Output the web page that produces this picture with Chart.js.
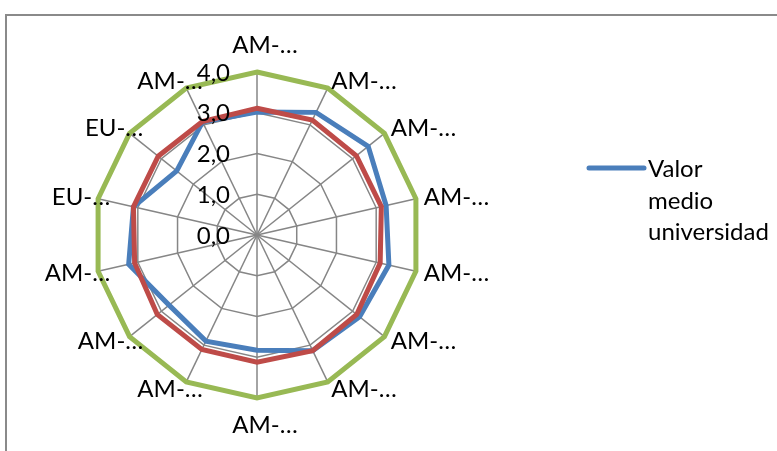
<!DOCTYPE html>
<html>
<head>
<meta charset="utf-8">
<script src="https://cdn.jsdelivr.net/npm/chart.js@4"></script>
<style>
  html, body { margin: 0; padding: 0; background: #fff; overflow: hidden; }
  #marco { position: absolute; left: 5px; top: 14px; width: 900px; height: 600px; border: 2px solid #8a8a8a; }
  #wrap { position: absolute; left: 0; top: 0; width: 777px; height: 451px; }
</style>
</head>
<body>
<div id="marco"></div>
<div id="wrap"><canvas id="graficoRadar"></canvas></div>
<script>
// datos
const categorias = ['AM-…', 'AM-…', 'AM-…', 'AM-…', 'AM-…', 'AM-…', 'AM-…',
                    'AM-…', 'AM-…', 'AM-…', 'AM-…', 'EU-…', 'EU-…', 'AM-…'];
const valorUniversidad = [3.02, 3.34, 3.49, 3.25, 3.32, 3.22, 3.15, 2.83, 2.89, 2.76, 3.23, 3.11, 2.52, 3.08];
const valorReferencia  = [3.11, 3.13, 3.12, 3.13, 3.10, 3.13, 3.15, 3.12, 3.12, 3.13, 3.08, 3.11, 3.10, 3.09];
const valorMaximo      = [4, 4, 4, 4, 4, 4, 4, 4, 4, 4, 4, 4, 4, 4];
const ticksEje = [0, 1, 2, 3, 4];
const leyendaTexto = ['Valor', 'medio', 'universidad'];

const fuente = '24px Lato';

// etiquetas del eje y de las categorias, dibujadas como en Excel
const etiquetasExcel = {
    id: 'etiquetasExcel',
    afterDraw(chart) {
        const ctx = chart.ctx;
        const r = chart.scales.r;
        ctx.save();
        ctx.font = fuente;
        ctx.fillStyle = '#000';

        // valores del eje a la izquierda del eje vertical
        ctx.textAlign = 'right';
        ctx.textBaseline = 'middle';
        ticksEje.forEach(v => {
            const y = r.yCenter - r.getDistanceFromCenterForValue(v);
            ctx.fillText(v.toFixed(1).replace('.', ','), r.xCenter - 27, y + 1);
        });

        // categorias
        const n = categorias.length;
        categorias.forEach((txt, i) => {
            const p = r.getPointPosition(i, r.drawingArea + 8);
            let x = p.x, y = p.y;
            if (i === 0) {
                ctx.textAlign = 'center';
                x = r.xCenter + 8;
                y = r.yCenter - r.drawingArea - 27;
            } else if (i === n / 2) {
                ctx.textAlign = 'center';
                x = r.xCenter + 8;
                y = r.yCenter + r.drawingArea + 27;
            } else if (i < n / 2) {
                ctx.textAlign = 'left';
            } else {
                ctx.textAlign = 'right';
                x = x + 20;
            }
            ctx.fillText(txt, x, y);
        });

        // leyenda (solo la primera serie)
        const ds = chart.data.datasets[0];
        ctx.strokeStyle = ds.borderColor;
        ctx.lineWidth = 5;
        ctx.lineCap = 'round';
        ctx.beginPath();
        ctx.moveTo(589, 168);
        ctx.lineTo(644, 168);
        ctx.stroke();
        ctx.textAlign = 'left';
        ctx.textBaseline = 'alphabetic';
        leyendaTexto.forEach((t, k) => {
            ctx.fillText(t, 648, 177 + k * 31.5);
        });
        ctx.restore();
    }
};

const ctx = document.getElementById('graficoRadar').getContext('2d');
new Chart(ctx, {
    type: 'radar',
    data: {
        labels: categorias,
        datasets: [{
            label: 'Valor medio universidad',
            data: valorUniversidad,
            borderColor: '#4a7ebb',
            borderWidth: 5,
            fill: false,
            pointRadius: 0,
            order: 3
        }, {
            label: 'Serie2',
            data: valorReferencia,
            borderColor: '#be4b48',
            borderWidth: 5,
            fill: false,
            pointRadius: 0,
            order: 2
        }, {
            label: 'Serie3',
            data: valorMaximo,
            borderColor: '#98b954',
            borderWidth: 5,
            fill: false,
            pointRadius: 0,
            order: 1
        }]
    },
    options: {
        responsive: true,
        maintainAspectRatio: false,
        animation: false,
        layout: {
            padding: { left: 94, top: 72, right: 357, bottom: 53 }
        },
        plugins: {
            legend: { display: false },
            tooltip: { enabled: false }
        },
        elements: {
            line: { tension: 0, borderJoinStyle: 'miter' }
        },
        scales: {
            r: {
                min: 0,
                max: 4,
                ticks: { display: false, stepSize: 1 },
                pointLabels: { display: false },
                grid: { color: '#868686', lineWidth: 1.5 },
                angleLines: { color: '#868686', lineWidth: 1.5 }
            }
        }
    },
    plugins: [etiquetasExcel]
});
</script>
</body>
</html>
